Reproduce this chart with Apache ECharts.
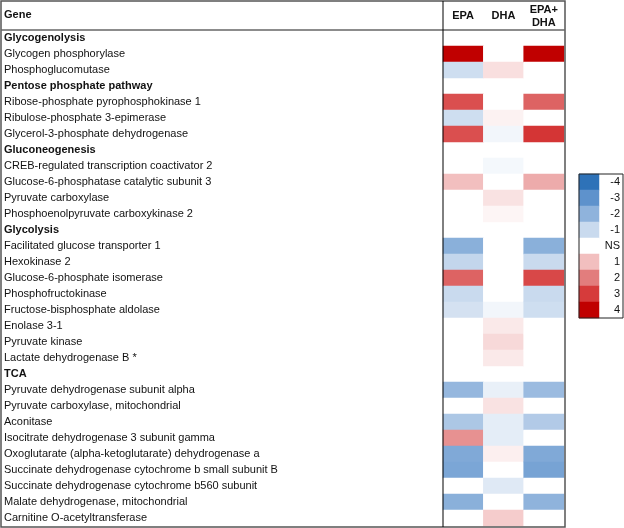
<!DOCTYPE html>
<html><head><meta charset="utf-8">
<script src="https://cdn.jsdelivr.net/npm/echarts@6/dist/echarts.min.js"></script>
<style>html,body{margin:0;padding:0;background:#fff}#c{width:624px;height:528px}</style>
</head><body><div id="c"></div>
<script>
const genes = ["Glycogenolysis","Glycogen phosphorylase","Phosphoglucomutase","Pentose phosphate pathway","Ribose-phosphate pyrophosphokinase 1","Ribulose-phosphate 3-epimerase","Glycerol-3-phosphate dehydrogenase","Gluconeogenesis","CREB-regulated transcription coactivator 2","Glucose-6-phosphatase catalytic subunit 3","Pyruvate carboxylase","Phosphoenolpyruvate carboxykinase 2","Glycolysis","Facilitated glucose transporter 1","Hexokinase 2","Glucose-6-phosphate isomerase","Phosphofructokinase","Fructose-bisphosphate aldolase","Enolase 3-1","Pyruvate kinase","Lactate dehydrogenase B *","TCA","Pyruvate dehydrogenase subunit alpha","Pyruvate carboxylase, mitochondrial","Aconitase","Isocitrate dehydrogenase 3 subunit gamma","Oxoglutarate (alpha-ketoglutarate) dehydrogenase a","Succinate dehydrogenase cytochrome b small subunit B","Succinate dehydrogenase cytochrome b560 subunit","Malate dehydrogenase, mitochondrial","Carnitine O-acetyltransferase"];
const groupHeaders = ["Glycogenolysis","Pentose phosphate pathway","Gluconeogenesis","Glycolysis","TCA"];
const treatments = ["EPA","DHA","EPA+DHA"];
const epa    = [null,4,-0.9,null,2.7,-0.9,2.7,null,0,1,0,0,null,-2.1,-1.1,2.4,-1,-0.8,0,0,0,null,-1.9,0,-1.5,1.7,-2.3,-2.4,0,-2.1,0];
const dha    = [null,0,0.5,null,0,0.2,-0.25,null,-0.2,0,0.45,0.15,null,0,0,0,0,-0.25,0.35,0.6,0.35,null,-0.4,0.45,-0.5,-0.5,0.25,0,-0.6,0,0.8];
const epadha = [null,4,0,null,2.4,0,3.1,null,0,1.3,0,0,null,-2.1,-1,2.8,-1,-0.9,0,0,0,null,-1.8,0,-1.4,0,-2.3,-2.5,0,-2,0];
const legendLabels = ["-4","-3","-2","-1","NS","1","2","3","4"];
const legendValues = [-4,-3,-2,-1,0,1,2,3,4];
const scaleColors = ['#2e72b8','#5e92cc','#8fb3dc','#c9daee','#ffffff','#f2bfbf','#e27d7d','#d63b3b','#c00000'];

const cols = [epa, dha, epadha];
const cellData = [];
cols.forEach((arr, x) => arr.forEach((v, y) => { if (v !== null) cellData.push([x, y, v]); }));
const legendData = legendValues.map((v, i) => [0, i, v]);

const font = '"Liberation Sans", Arial, sans-serif';
const chart = echarts.init(document.getElementById('c'), null, {renderer: 'canvas'});
chart.setOption({
  animation: false,
  backgroundColor: '#fff',
  grid: [
    {left: 443, top: 30, width: 121, height: 496},
    {left: 579, top: 174, width: 20, height: 144}
  ],
  xAxis: [
    {type: 'category', gridIndex: 0, data: treatments, position: 'top',
     axisLine: {show: false}, axisTick: {show: false}, splitLine: {show: false},
     axisLabel: {fontFamily: font, fontSize: 11, fontWeight: 'bold', color: '#111', margin: 14,
       verticalAlign: 'middle', lineHeight: 13, align: 'center',
       formatter: v => v === 'EPA+DHA' ? 'EPA+\nDHA' : v}},
    {type: 'category', gridIndex: 1, data: [''], show: false}
  ],
  yAxis: [
    {type: 'category', gridIndex: 0, data: genes, inverse: true,
     axisLine: {show: false}, axisTick: {show: false}, splitLine: {show: false},
     axisLabel: {interval: 0, fontFamily: font, fontSize: 11, color: '#111', align: 'left', margin: 439,
       formatter: v => groupHeaders.includes(v) ? '{h|' + v + '}' : v,
       rich: {h: {fontFamily: font, fontSize: 11, fontWeight: 'bold', color: '#111'}}}},
    {type: 'category', gridIndex: 1, data: legendLabels, inverse: true, position: 'right',
     axisLine: {show: false}, axisTick: {show: false}, splitLine: {show: false},
     axisLabel: {interval: 0, fontFamily: font, fontSize: 11, color: '#111', align: 'right', margin: 21}}
  ],
  visualMap: {
    type: 'continuous', min: -4, max: 4, show: false, seriesIndex: [0, 1],
    inRange: {color: scaleColors}
  },
  series: [
    {type: 'heatmap', xAxisIndex: 0, yAxisIndex: 0, data: cellData, itemStyle: {borderWidth: 0}},
    {type: 'heatmap', xAxisIndex: 1, yAxisIndex: 1, data: legendData, itemStyle: {borderWidth: 0}}
  ],
  graphic: [
    {type: 'rect', shape: {x: 1, y: 1, width: 564, height: 526}, style: {fill: null, stroke: '#555', lineWidth: 1.5}, z: 100},
    {type: 'line', shape: {x1: 1, y1: 30, x2: 565, y2: 30}, style: {stroke: '#666', lineWidth: 1.5}, z: 100},
    {type: 'line', shape: {x1: 443, y1: 1, x2: 443, y2: 527}, style: {stroke: '#000', lineWidth: 1}, z: 100},
    {type: 'rect', shape: {x: 579, y: 174, width: 44, height: 144}, style: {fill: null, stroke: '#222', lineWidth: 1}, z: 100},
    {type: 'text', left: 4, top: 9, style: {text: 'Gene', font: 'bold 11px ' + font, fill: '#111'}}
  ]
});
</script></body></html>
